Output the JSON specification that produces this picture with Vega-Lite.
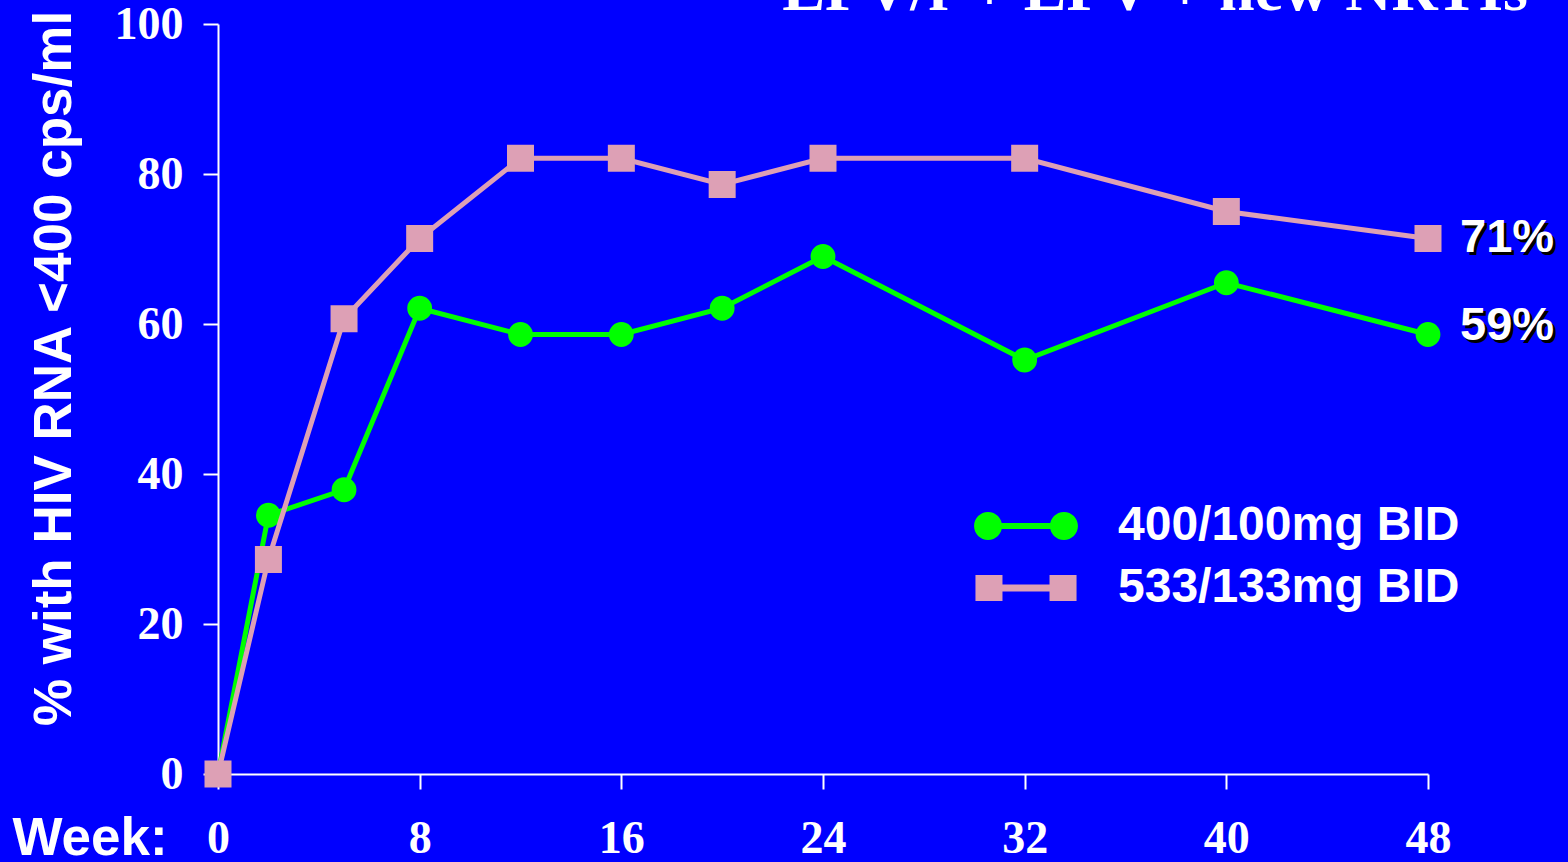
{
  "$schema": "https://vega.github.io/schema/vega-lite/v6.json",
  "autosize": {"type": "none"},
  "width": 1210,
  "height": 750,
  "padding": {"left": 218, "top": 24, "right": 140, "bottom": 88},
  "background": "#0000FF",
  "title": {
    "text": "LPV/r + EFV + new NRTIs",
    "anchor": "end",
    "frame": "group",
    "font": "Liberation Serif",
    "fontSize": 64,
    "fontWeight": "bold",
    "color": "white",
    "baseline": "alphabetic",
    "offset": -73,
    "dx": 100
  },
  "config": {
    "view": {"stroke": null},
    "axis": {
      "grid": false,
      "domainColor": "white",
      "domainWidth": 2,
      "tickColor": "white",
      "tickWidth": 2,
      "tickSize": 15,
      "labelFont": "Liberation Serif",
      "labelFontWeight": "bold",
      "labelFontSize": 46,
      "labelColor": "white",
      "labelOverlap": false,
      "labelFlush": false,
      "titleFont": "Liberation Sans",
      "titleFontWeight": "bold",
      "titleColor": "white"
    }
  },
  "data": {
    "values": [
      {"series": "400/100mg BID", "week": 0, "pct": 0},
      {"series": "400/100mg BID", "week": 2, "pct": 34.5},
      {"series": "400/100mg BID", "week": 5, "pct": 37.9},
      {"series": "400/100mg BID", "week": 8, "pct": 62.1},
      {"series": "400/100mg BID", "week": 12, "pct": 58.6},
      {"series": "400/100mg BID", "week": 16, "pct": 58.6},
      {"series": "400/100mg BID", "week": 20, "pct": 62.1},
      {"series": "400/100mg BID", "week": 24, "pct": 69.0},
      {"series": "400/100mg BID", "week": 32, "pct": 55.2},
      {"series": "400/100mg BID", "week": 40, "pct": 65.5},
      {"series": "400/100mg BID", "week": 48, "pct": 58.6, "label": "59%"},
      {"series": "533/133mg BID", "week": 0, "pct": 0},
      {"series": "533/133mg BID", "week": 2, "pct": 28.6},
      {"series": "533/133mg BID", "week": 5, "pct": 60.7},
      {"series": "533/133mg BID", "week": 8, "pct": 71.4},
      {"series": "533/133mg BID", "week": 12, "pct": 82.1},
      {"series": "533/133mg BID", "week": 16, "pct": 82.1},
      {"series": "533/133mg BID", "week": 20, "pct": 78.6},
      {"series": "533/133mg BID", "week": 24, "pct": 82.1},
      {"series": "533/133mg BID", "week": 32, "pct": 82.1},
      {"series": "533/133mg BID", "week": 40, "pct": 75.0},
      {"series": "533/133mg BID", "week": 48, "pct": 71.4, "label": "71%"}
    ]
  },
  "encoding": {
    "x": {
      "field": "week",
      "type": "quantitative",
      "scale": {"domain": [0, 48], "nice": false, "zero": false},
      "axis": {
        "values": [0, 8, 16, 24, 32, 40, 48],
        "labelPadding": 27,
        "title": "Week:",
        "titleFontSize": 53,
        "titleAlign": "left",
        "titleBaseline": "alphabetic",
        "titleAnchor": "start",
        "titleX": -206,
        "titleY": 80
      }
    },
    "y": {
      "field": "pct",
      "type": "quantitative",
      "scale": {"domain": [0, 100], "nice": false},
      "axis": {
        "values": [0, 20, 40, 60, 80, 100],
        "labelPadding": 20,
        "title": "% with HIV RNA <400 cps/ml",
        "titleFontSize": 53,
        "titleAngle": 270,
        "titleAlign": "center",
        "titleBaseline": "alphabetic",
        "titleX": -148,
        "titleY": 344
      }
    }
  },
  "layer": [
    {
      "transform": [{"filter": "datum.series === '400/100mg BID'"}],
      "layer": [
        {
          "mark": {"type": "line", "strokeWidth": 5},
          "encoding": {
            "color": {
              "field": "series",
              "type": "nominal",
              "scale": {"domain": ["400/100mg BID", "533/133mg BID"], "range": ["#00FF00", "#DDA0B5"]},
              "legend": {
                "orient": "none",
                "legendX": 784,
                "legendY": 478,
                "title": null,
                "padding": 0,
                "symbolSize": 784,
                "symbolStrokeWidth": 0,
                "labelFont": "Liberation Sans",
                "labelFontSize": 48,
                "labelFontWeight": "bold",
                "labelColor": "white",
                "labelOffset": 68,
                "labelLimit": 600,
                "rowPadding": 14,
                "encode": {
                  "symbols": {
                    "update": {
                      "shape": {"signal": "datum.value === '400/100mg BID' ? 'M -3.71 0 A 1 1 0 1 1 -1.71 0 A 1 1 0 1 1 -3.71 0 Z M 1.71 0 A 1 1 0 1 1 3.71 0 A 1 1 0 1 1 1.71 0 Z M -1.75 -0.21 L 1.75 -0.21 L 1.75 0.21 L -1.75 0.21 Z' : 'M -3.61 -0.93 L -1.68 -0.93 L -1.68 0.93 L -3.61 0.93 Z M 1.68 -0.93 L 3.61 -0.93 L 3.61 0.93 L 1.68 0.93 Z M -1.7 -0.25 L 1.7 -0.25 L 1.7 0.25 L -1.7 0.25 Z'"},
                      "fill": {"signal": "datum.value === '400/100mg BID' ? '#00FF00' : '#FF99CC'"},
                      "fillOpacity": {"value": 1},
                      "opacity": {"value": 1},
                      "stroke": {"value": "transparent"},
                      "strokeWidth": {"value": 0},
                      "strokeDash": {"value": []},
                      "size": {"value": 784}
                    }
                  }
                }
              }
            }
          }
        },
        {
          "mark": {"type": "point", "shape": "circle", "filled": true, "opacity": 1, "size": 616},
          "encoding": {"color": {"field": "series", "type": "nominal"}}
        }
      ]
    },
    {
      "transform": [{"filter": "datum.series === '533/133mg BID'"}],
      "layer": [
        {
          "mark": {"type": "line", "strokeWidth": 5},
          "encoding": {"color": {"field": "series", "type": "nominal"}}
        },
        {
          "mark": {"type": "point", "shape": "square", "filled": true, "opacity": 1, "size": 729},
          "encoding": {"color": {"field": "series", "type": "nominal"}}
        }
      ]
    },
    {
      "transform": [{"filter": "datum.label === '71%'"}],
      "layer": [
        {
          "mark": {"type": "text", "font": "Liberation Sans", "fontWeight": "bold", "fontSize": 47, "align": "left", "baseline": "middle", "color": "black", "dx": 35, "dy": 2},
          "encoding": {"text": {"field": "label"}}
        },
        {
          "mark": {"type": "text", "font": "Liberation Sans", "fontWeight": "bold", "fontSize": 47, "align": "left", "baseline": "middle", "color": "white", "dx": 32, "dy": -1},
          "encoding": {"text": {"field": "label"}}
        }
      ]
    },
    {
      "transform": [{"filter": "datum.label === '59%'"}],
      "layer": [
        {
          "mark": {"type": "text", "font": "Liberation Sans", "fontWeight": "bold", "fontSize": 47, "align": "left", "baseline": "middle", "color": "black", "dx": 35, "dy": -6},
          "encoding": {"text": {"field": "label"}}
        },
        {
          "mark": {"type": "text", "font": "Liberation Sans", "fontWeight": "bold", "fontSize": 47, "align": "left", "baseline": "middle", "color": "white", "dx": 32, "dy": -9},
          "encoding": {"text": {"field": "label"}}
        }
      ]
    }
  ]
}
